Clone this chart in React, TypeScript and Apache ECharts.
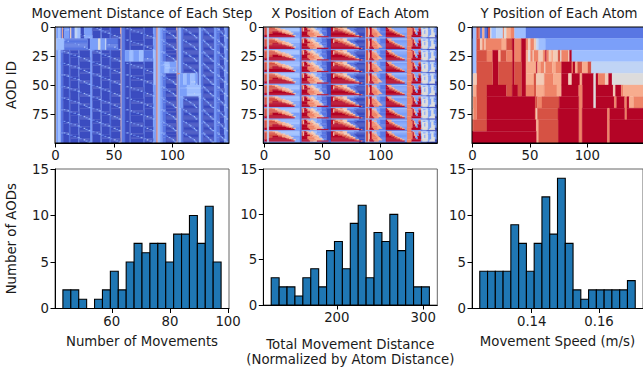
import React, { useEffect, useRef } from "react";
import * as echarts from "echarts";

const COLS = 149;
const ROWS = 100;
const BAND = 10;
const coolwarm = ["#3b4cc0", "#5977e3", "#7b9ff9", "#9ebeff", "#c0d4f5", "#dddcdc", "#f2cbb7", "#f7ac8e", "#ee8468", "#d65244", "#b40426"];

// Each list: level, end column, level, end column ...
const yBands = [
  [0,1,3,4,9,6,8,7,1,9,7,11,1,13,0,14,9,16,5,17,3,21,4,27,8,28,5,30,7,34,8,37,3,47,1,149],
  [2,1,3,4,9,7,6,9,8,11,6,12,8,26,7,30,9,35,10,37,8,43,10,47,8,49,6,51,8,54,6,56,4,58,3,64,2,149],
  [2,1,3,4,9,13,8,18,10,23,7,25,9,30,8,35,10,37,8,43,10,47,7,49,5,51,8,53,6,54,8,58,6,62,8,64,10,65,8,67,6,69,7,71,6,75,9,77,5,78,8,84,6,85,10,87,3,149],
  [2,1,3,4,9,18,10,23,9,35,10,37,9,43,10,47,7,56,10,57,7,60,8,63,6,64,8,70,7,73,8,78,10,87,8,88,10,90,7,92,9,96,7,101,9,104,4,149],
  [3,1,6,4,9,18,10,23,9,35,10,37,9,43,10,47,7,54,9,56,6,63,8,71,7,78,10,84,6,87,10,94,7,96,10,106,5,108,10,110,8,116,6,119,10,122,5,149],
  [4,1,7,4,9,13,10,30,9,35,10,40,9,43,10,47,8,54,9,56,7,63,8,74,7,78,10,93,8,96,10,106,5,108,10,123,6,125,10,130,8,132,7,149],
  [5,1,8,4,9,13,10,55,9,57,8,61,9,76,10,93,8,96,10,106,5,108,10,124,8,126,10,133,8,135,10,137,7,141,8,149],
  [6,1,8,4,9,13,10,55,8,56,6,57,9,75,10,93,8,96,10,118,8,120,10,133,8,135,10,149],
  [8,1,9,13,10,56,7,58,9,75,10,93,8,96,10,118,8,120,10,149],
  [10,56,7,58,9,75,10,93,8,96,10,118,8,120,10,149],
];

const xTile = [
  [1,1,8,3,4,5,8,8,7,10,6,13,3,31, 1,33,8,35,10,37,7,39,3,41,6,43,3,46,2,50,1,54,0,58, 10,60,9,62,7,66,8,68,6,72,2,78,1,87, 3,88,9,90,3,91,10,93,3,95,7,97,2,100,1,105, 10,106,7,110,3,123, 8,127,10,128,7,129,2,133,8,135, 4,141,2,143,4,147,1,149],
  [1,1,9,3,4,5,9,10,7,15,3,31, 1,33,9,34,6,35,10,38,7,41,6,44,3,46,2,50,1,54,0,58, 10,60,6,61,9,64,7,68,6,72,1,80,0,87, 3,88,9,90,3,91,10,93,7,95,3,97,2,100,1,105, 10,107,7,110,2,123, 8,128,10,129,7,130,2,133,9,135, 4,137,2,139,4,141,2,143,4,146,2,148,1,149],
  [1,1,9,3,4,5,9,12,7,17,6,19,3,31, 1,33,9,34,6,35,10,38,8,40,7,42,6,45,2,50,1,54,0,58, 10,60,6,61,9,66,8,69,6,74,1,78,0,87, 3,88,9,90,6,91,10,93,8,95,7,97,2,100,1,105, 10,108,8,110,7,112,2,123, 8,128,10,129,7,130,2,133,10,135, 3,136,5,141,2,144,5,146,2,147,1,149],
  [1,1,9,3,4,5,9,13,8,16,7,20,6,22,3,31, 1,33,9,34,6,35,10,40,8,43,6,47,3,49,1,54,0,58, 10,60,6,61,10,64,9,68,8,72,6,75,1,79,0,87, 3,88,9,90,6,91,10,93,8,96,7,98,2,100,1,105, 10,108,9,111,7,113,2,123, 8,128,10,129,7,131,2,133,10,135, 3,136,5,138,2,139,5,141,2,144,5,146,2,148,1,149],
  [1,1,9,3,4,5,9,8,10,13,9,16,7,21,6,24,2,31, 1,33,10,38,8,42,7,46,6,48,2,50,1,54,0,58, 10,68,9,71,8,74,6,77,1,80,0,87, 3,88,9,90,6,91,10,93,8,97,7,99,1,105, 10,110,9,113,7,115,2,123, 8,128,10,130,7,131,3,132,10,135, 3,136,5,138,2,139,5,141,2,144,5,146,2,148,1,149],
  [1,1,9,3,4,5,9,8,10,16,9,19,7,23,6,26,2,31, 1,33,10,38,8,44,7,48,3,50,1,54,0,58, 10,70,9,74,8,77,6,79,1,81,0,87, 3,88,9,90,6,91,10,93,8,98,7,100,1,105, 10,112,9,115,7,117,2,123, 8,128,10,130,2,132,10,135, 3,136,5,138,2,139,5,141,2,144,5,147,2,148,1,149],
  [1,1,9,3,4,5,10,20,9,22,7,25,2,31, 1,33,10,38,8,44,7,49,6,51,1,54,0,58, 10,73,9,76,8,79,1,82,0,87, 3,88,9,90,6,91,10,93,8,98,7,101,1,105, 10,114,9,117,7,119,2,123, 8,128,10,131,2,132,10,135, 3,136,5,141,2,144,5,147,2,148,1,149],
  [1,1,10,3,4,5,10,24,9,26,6,28,2,31, 1,33,10,39,8,45,7,50,3,52,1,54,0,58, 10,78,9,80,7,82,0,87, 3,88,9,90,6,91,10,94,8,98,7,102,1,105, 10,117,9,119,7,121,2,123, 8,127,10,135, 7,136,5,141,2,143,5,147,0,149],
  [1,1,10,3,4,5,10,27,2,31, 1,33,10,40,8,43,7,46,10,56,0,58, 10,84,8,85,0,87, 3,88,9,90,6,91,10,95,8,99,1,105, 10,121,2,123, 8,127,10,135, 2,136,5,141,2,142,5,147,0,149],
  [1,1,2,3,4,5,2,31, 1,33,2,50,1,58, 2,82,0,87, 3,88,2,105, 1,123, 8,127,2,135, 1,140,0,149],
];

const moveStripes = [6,1,2,3,3,5,1,7,0,12,1,13,0,20,1,21,0,30,2,32,0,39,2,40,0,47,1,48,0,56,7,57,1,60,0,64,1,65,0,76,1,77,0,84,2,86,1,87,8,88,3,90,2,92,1,95,0,104,7,105,1,106,3,108,1,110,0,123,3,125,1,127,0,136,2,138,1,141,0,145,2,147,1,149];
// rowStart, rowEnd, colStart, colEnd, level
const moveBlocks = [
  [0,10,8,12,2],[0,10,6,7,7],[0,10,13,14,6],[0,10,14,17,1],[0,10,17,19,4],[0,10,19,22,3],[0,10,25,30,2],
  [10,20,1,8,3],[10,20,8,28,1],[10,20,30,37,2],[10,20,37,39,5],[10,20,39,43,2],[10,20,43,44,4],[10,20,44,54,1],
  [20,30,60,64,2],[20,30,64,67,3],[20,30,67,72,2],[20,30,72,76,3],[20,30,76,84,1],[20,50,84,86,3],
  [30,40,90,104,2],[30,40,94,98,3],
  [40,50,107,122,2],[40,50,110,113,3],[40,50,116,120,3],[40,41,105,107,8],
  [50,60,107,113,2],[50,60,113,124,3],[60,70,107,110,2],
];
const moveTraces = [
  [6,8,11,14,17,20,22,25,27,29],
  [33,36,38,41,43,46,48,51,53,55],
  [59,62,65,68,71,74,77,79,82,84],
  [90,92,93,95,96,98,100,101,102,103],
  [109,110,112,113,115,116,118,119,120,121],
  [126,127,128,129,130,131,132,133,134,135],
  [138,139,140,141,142,143,144,145,146,147],
];
const traceLevels = [1,2,3,1,2,3,1,4,2,3];

const speedEdgesStart = 0.12456, speedBin = 0.00231;
const moveCounts = [2,2,1,0,1,2,4,2,5,7,6,7,7,5,8,8,10,7,11,5];
const distCounts = [3,2,2,1,3,4,2,6,7,4,9,11,3,8,7,10,6,8,2,2];
const speedCounts = [4,4,4,4,9,7,4,7,12,8,14,7,2,1,2,2,2,2,2,3];
const moveEdgesStart = 43.2, moveBin = 2.72;
const distEdgesStart = 124, distBin = 9.16;

const titles = ["Movement Distance of Each Step", "X Position of Each Atom", "Y Position of Each Atom"];
const histNames = ["Number of Movements", "Total Movement Distance\n(Normalized by Atom Distance)", "Movement Speed (m/s)"];
const histTicks = [[60, 80, 100], [200, 300], [0.14, 0.16]];
const countTicks = [0, 5, 10, 15];
const heatXTicks = [0, 50, 100];
const heatYTicks = [0, 25, 50, 75];

const FONT = "DejaVu Sans";
const FS = 13.3;
const LEFTS = [55, 263.3, 472];
const W = 174;

function decode(rle: number[]) {
  const out: number[] = new Array(COLS).fill(0);
  let s = 0;
  for (let i = 0; i < rle.length; i += 2) {
    for (let c = s; c < rle[i + 1]; c++) out[c] = rle[i];
    s = rle[i + 1];
  }
  return out;
}

// Merge equal neighbours into [col0, col1, row0, row1, level] blocks.
function blocks(grid: number[][]) {
  const open = new Map<string, number[]>();
  const out: number[][] = [];
  grid.forEach((row, r) => {
    const next = new Map<string, number[]>();
    let s = 0;
    for (let c = 1; c <= row.length; c++) {
      if (c === row.length || row[c] !== row[s]) {
        const key = `${s}-${c}-${row[s]}`;
        const prev = open.get(key);
        if (prev) { prev[3] = r + 1; next.set(key, prev); }
        else { const b = [s, c, r, r + 1, row[s]]; out.push(b); next.set(key, b); }
        s = c;
      }
    }
    open.clear();
    next.forEach((v, k) => open.set(k, v));
  });
  return out;
}

function yGrid() {
  const g: number[][] = [];
  for (let r = 0; r < ROWS; r++) g.push(decode(yBands[Math.floor(r / BAND)]));
  return g;
}
function xGrid() {
  const tile = xTile.map(decode);
  const g: number[][] = [];
  for (let r = 0; r < ROWS; r++) g.push(tile[r % BAND]);
  return g;
}
function moveGrid() {
  const g: number[][] = [];
  for (let r = 0; r < ROWS; r++) {
    const row = decode(moveStripes);
    for (const [a, b, c0, c1, l] of moveBlocks) if (r >= a && r < b) for (let c = c0; c < c1; c++) row[c] = l;
    for (const t of moveTraces) {
      const c = t[r % BAND];
      row[c] = Math.max(row[c], traceLevels[r % BAND]);
      if (row[c - 1] === 0) row[c - 1] = 1;
    }
    g.push(row);
  }
  return g;
}

const hist = (start: number, bin: number, counts: number[]) => counts.map((n, i) => [start + i * bin, start + (i + 1) * bin, n]);

export default function App() {
  const ref = useRef<HTMLDivElement>(null);
  useEffect(() => {
    document.body.style.margin = "0";
    document.body.style.overflow = "hidden";
    const chart = echarts.init(ref.current!, null, { renderer: "svg" });
    const line = { show: true, onZero: false, lineStyle: { color: "#000", width: 1 } };
    const label = { color: "#1a1a1a", fontFamily: FONT, fontSize: FS, margin: 6 };
    const nameStyle = { color: "#1a1a1a", fontFamily: FONT, fontSize: FS, lineHeight: 15 };
    const grids: any[] = [];
    const xAxes: any[] = [];
    const yAxes: any[] = [];
    const series: any[] = [];
    const heat = [blocks(moveGrid()), blocks(xGrid()), blocks(yGrid())];
    LEFTS.forEach((left, i) => {
      grids.push({ left, top: 27, width: W, height: 116 });
      xAxes.push({
        type: "value", gridIndex: i, min: -0.5, max: COLS - 0.5,
        axisLine: line, splitLine: { show: false },
        axisTick: { show: true, length: 4.5, customValues: heatXTicks, lineStyle: { color: "#000" } },
        axisLabel: { ...label, customValues: heatXTicks },
      });
      yAxes.push({
        type: "value", gridIndex: i, inverse: true, min: -0.5, max: ROWS - 0.5,
        name: i === 0 ? "AOD ID" : "", nameLocation: "middle", nameGap: 36, nameRotate: 90, nameTextStyle: nameStyle,
        axisLine: line, splitLine: { show: false },
        axisTick: { show: true, length: 4.5, customValues: heatYTicks, lineStyle: { color: "#000" } },
        axisLabel: { ...label, customValues: heatYTicks },
      });
      series.push({
        type: "custom", xAxisIndex: i, yAxisIndex: i, data: heat[i], silent: true, clip: true, progressive: 0,
        encode: { x: [0, 1], y: [2, 3] },
        renderItem: (_: any, api: any) => {
          const a = api.coord([api.value(0) - 0.5, api.value(2) - 0.5]);
          const b = api.coord([api.value(1) - 0.5, api.value(3) - 0.5]);
          const color = coolwarm[api.value(4)];
          return {
            type: "rect",
            shape: { x: a[0], y: a[1], width: b[0] - a[0], height: b[1] - a[1] },
            style: { fill: color, stroke: color, lineWidth: 0.3 },
          };
        },
      });
    });
    const histData = [hist(moveEdgesStart, moveBin, moveCounts), hist(distEdgesStart, distBin, distCounts), hist(speedEdgesStart, speedBin, speedCounts)];
    LEFTS.forEach((left, i) => {
      const g = i + 3;
      const bins = histData[i];
      const bin = bins[0][1] - bins[0][0];
      grids.push({ left, top: 169, width: W, height: 139.5, show: true, borderColor: "#666", borderWidth: 1, backgroundColor: "transparent" });
      xAxes.push({
        type: "value", gridIndex: g, min: bins[0][0] - bin, max: bins[bins.length - 1][1] + bin,
        name: histNames[i], nameLocation: "middle", nameGap: i === 1 ? 32 : 25, nameTextStyle: nameStyle,
        axisLine: line, splitLine: { show: false },
        axisTick: { show: true, length: 4.5, customValues: histTicks[i], lineStyle: { color: "#000" } },
        axisLabel: { ...label, customValues: histTicks[i], formatter: (v: number) => (i === 2 ? v.toFixed(2) : String(v)) },
      });
      yAxes.push({
        type: "value", gridIndex: g, min: 0, max: 15, interval: 5,
        name: i === 0 ? "Number of AODs" : "", nameLocation: "middle", nameGap: 36, nameRotate: 90, nameTextStyle: nameStyle,
        axisLine: line, splitLine: { show: false },
        axisTick: { show: true, length: 4.5, customValues: countTicks, lineStyle: { color: "#000" } },
        axisLabel: { ...label, customValues: countTicks },
      });
      series.push({
        type: "custom", xAxisIndex: g, yAxisIndex: g, data: bins, silent: true, clip: false,
        encode: { x: [0, 1], y: 2 },
        renderItem: (_: any, api: any) => {
          const a = api.coord([api.value(0), api.value(2)]);
          const b = api.coord([api.value(1), 0]);
          return {
            type: "rect",
            shape: { x: a[0], y: a[1], width: b[0] - a[0], height: b[1] - a[1] },
            style: { fill: "#1f77b4", stroke: "#000", lineWidth: 1.1 },
          };
        },
      });
    });
    chart.setOption({
      animation: false,
      backgroundColor: "#fff",
      title: titles.map((text, i) => ({
        text, left: LEFTS[i] + W / 2, top: 7, padding: 0, textAlign: "center",
        textStyle: { color: "#1a1a1a", fontFamily: FONT, fontSize: FS, fontWeight: "normal" },
      })),
      grid: grids,
      xAxis: xAxes,
      yAxis: yAxes,
      series,
      graphic: LEFTS.map((left) => ({
        type: "rect", z: 100, silent: true,
        shape: { x: left, y: 27, width: W, height: 116 },
        style: { fill: "none", stroke: "#000", lineWidth: 1 },
      })),
    });
    return () => chart.dispose();
  }, []);
  return <div ref={ref} style={{ width: 643, height: 368 }} />;
}
